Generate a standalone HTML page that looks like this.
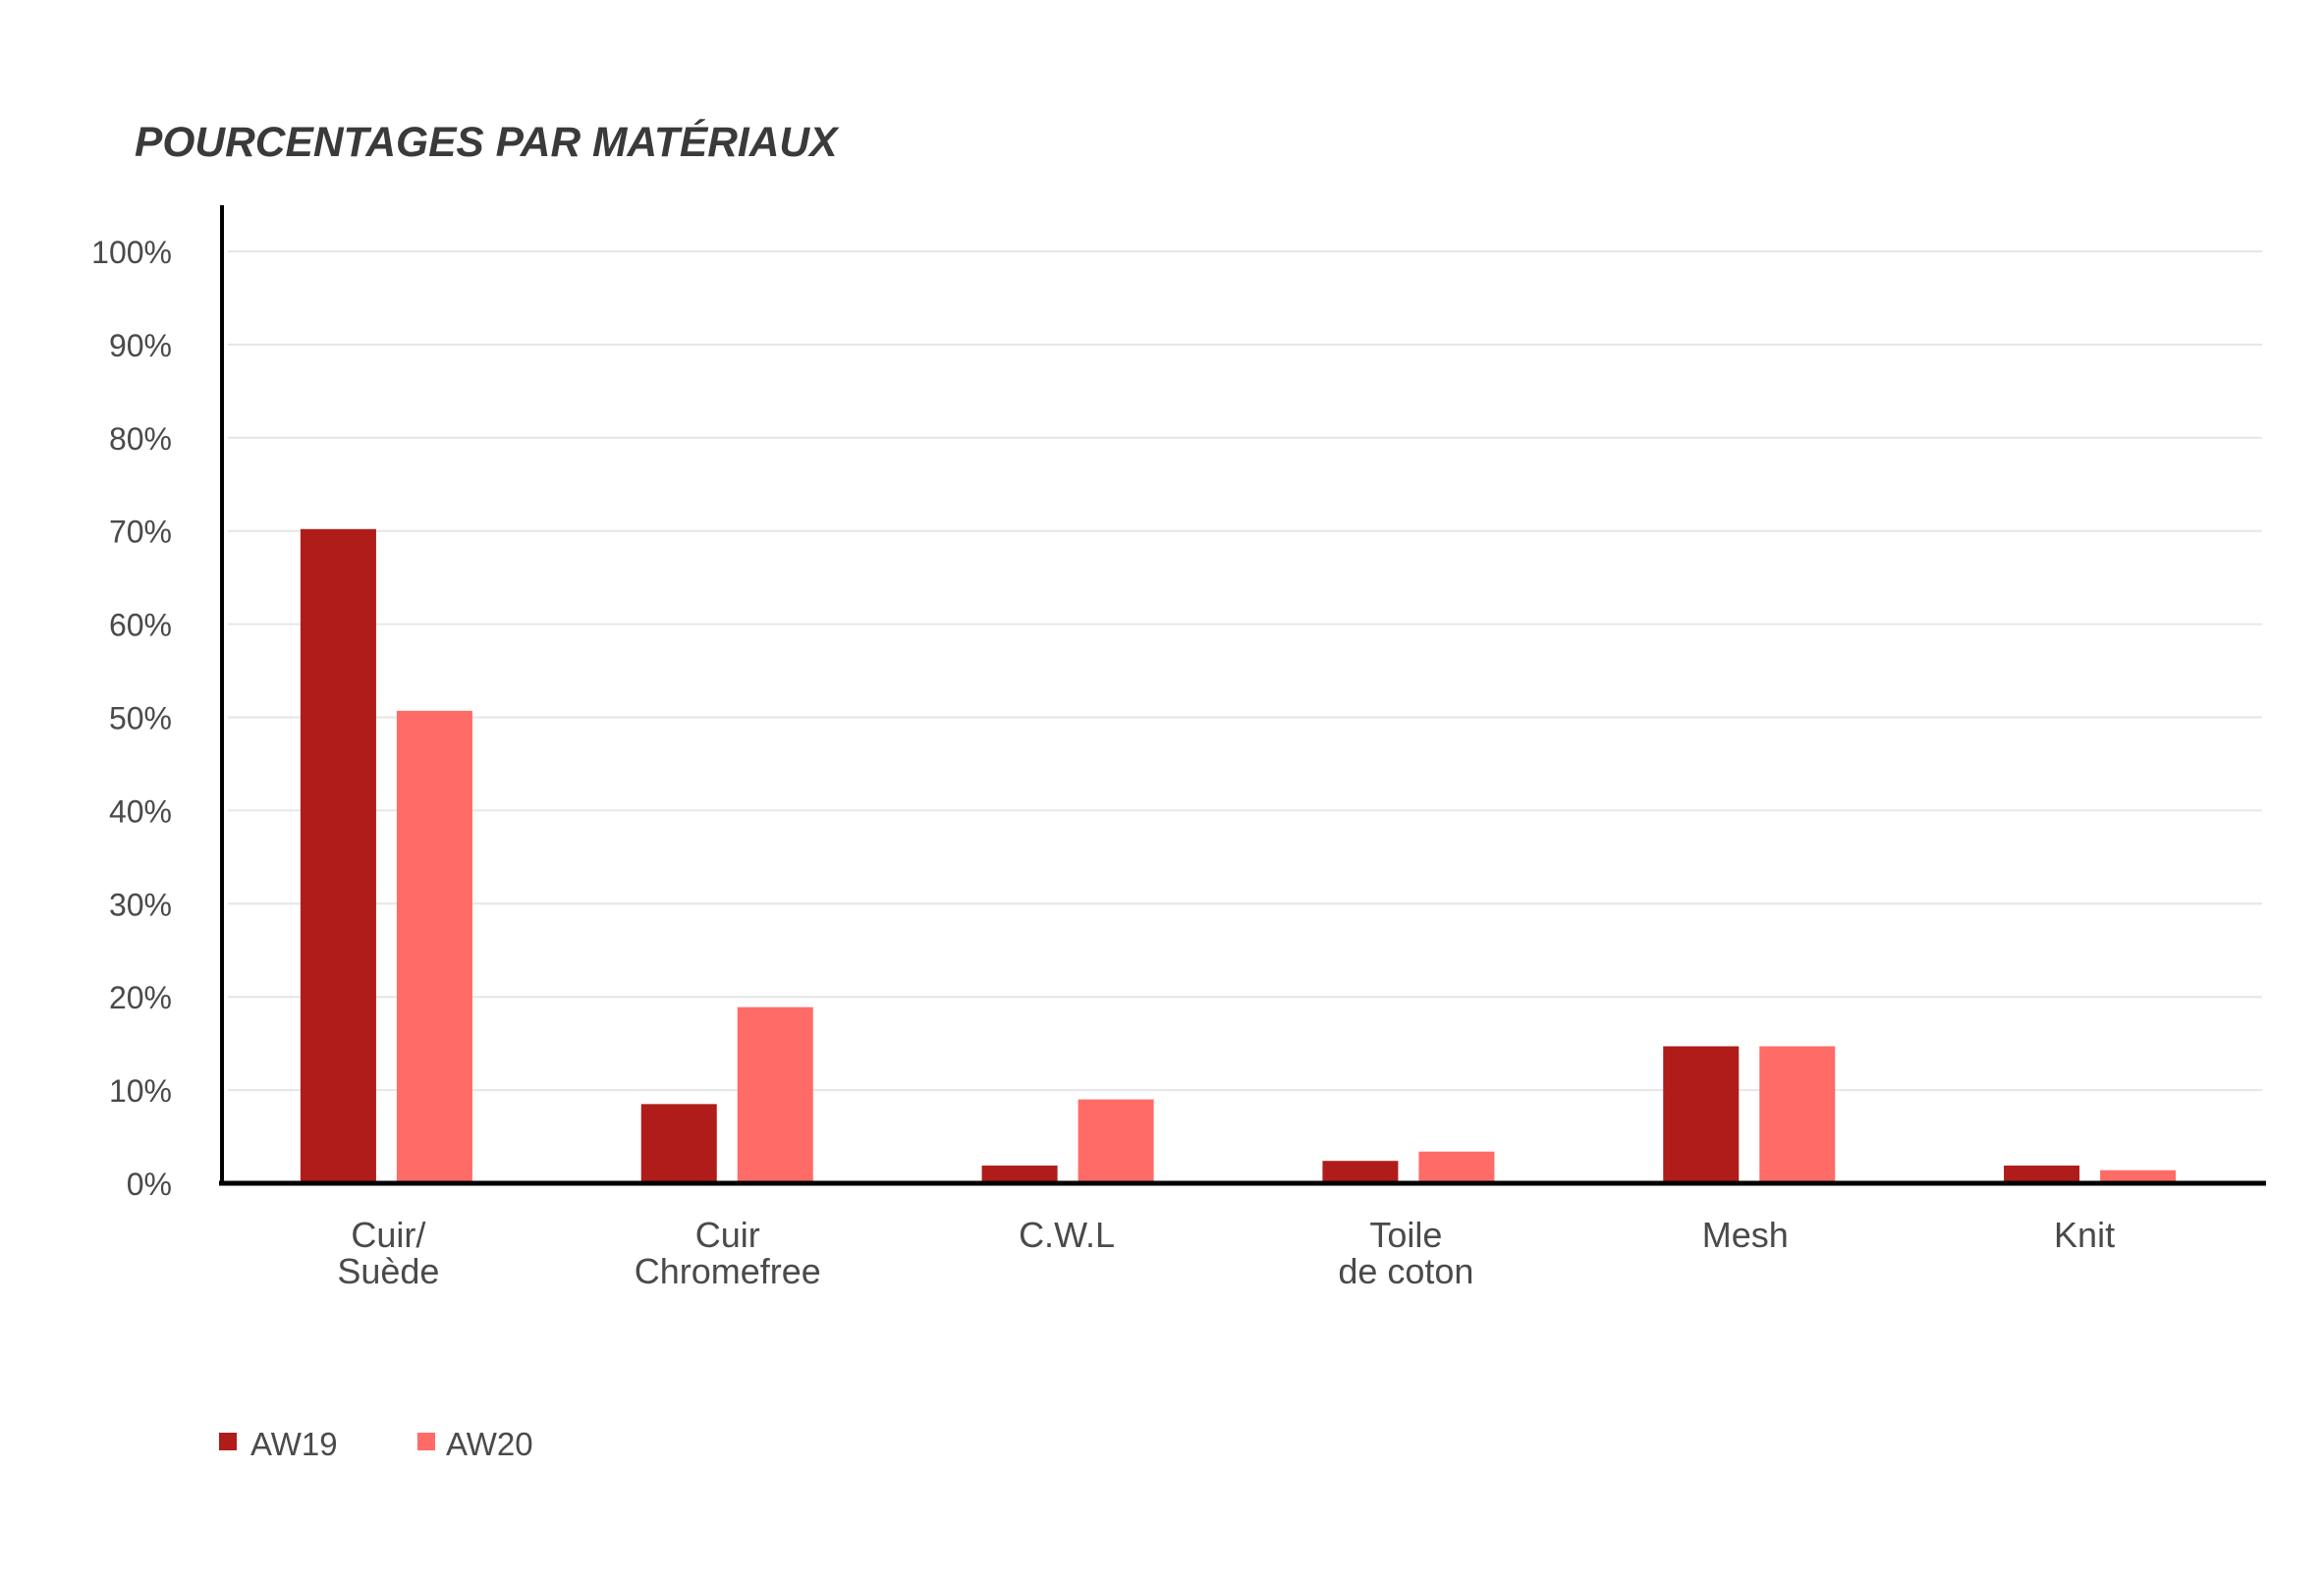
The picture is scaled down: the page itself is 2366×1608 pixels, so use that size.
<!DOCTYPE html>
<html><head><meta charset="utf-8"><style>
body{margin:0;background:#fff;}
svg text{font-family:"Liberation Sans",sans-serif;fill:#4a4a4a;}
</style></head><body>
<svg width="2366" height="1603" viewBox="0 0 2366 1603">
<text x="137" y="159" style="font-size:42.5px;font-weight:bold;font-style:italic;fill:#3a3a3a">POURCENTAGES PAR MATÉRIAUX</text>
<g id="grid"></g>
<g id="yticks"></g>
<g id="bars"></g>
<g id="xlabels"></g>
<line x1="226" y1="209" x2="226" y2="1207" stroke="#000" stroke-width="4"/>
<line x1="223" y1="1205" x2="2307" y2="1205" stroke="#000" stroke-width="5"/>
<g>
<rect x="223" y="1459" width="18" height="18" fill="#b01c1a"/>
<text x="255" y="1482" style="font-size:33px">AW19</text>
<rect x="425" y="1459" width="18" height="18" fill="#ff6b67"/>
<text x="454" y="1482" style="font-size:33px">AW20</text>
</g>
</svg>
<script>
const categories=[["Cuir/","Suède"],["Cuir","Chromefree"],["C.W.L"],["Toile","de coton"],["Mesh"],["Knit"]];
const aw19=[70.2,8.5,1.9,2.4,14.7,1.9];
const aw20=[50.7,18.9,9,3.4,14.7,1.4];
const yTicks=[0,10,20,30,40,50,60,70,80,90,100];
const NS="http://www.w3.org/2000/svg";
const x0=226,x1=2307,y0=1205,y100=256;
const band=(x1-x0)/categories.length;
function y(v){return y0-(y0-y100)*v/100;}
function bandCenter(i){return x0+band*(i+0.5)-6;}
function mk(t,a,p){const e=document.createElementNS(NS,t);for(const k in a)e.setAttribute(k,a[k]);p.appendChild(e);return e;}
const grid=document.getElementById('grid'),yt=document.getElementById('yticks'),bars=document.getElementById('bars'),xl=document.getElementById('xlabels');
yTicks.forEach(v=>{
 if(v>0){const l=mk('line',{x1:232,x2:2303,y1:y(v),y2:y(v),stroke:'#e6e6e6','stroke-width':2},grid);
 
 }
 const t=mk('text',{x:175,y:y(v)+12,'text-anchor':'end',style:'font-size:32px'},yt);
 t.textContent=v+'%';
 
 
});
const bw=77,gap=21;
categories.forEach((c,i)=>{
 const cx=bandCenter(i);
 const b1=mk('rect',{x:cx-gap/2-bw,y:y(aw19[i]),width:bw,height:y0-y(aw19[i]),fill:'#b01c1a'},bars);
 
 
 const b2=mk('rect',{x:cx+gap/2,y:y(aw20[i]),width:bw,height:y0-y(aw20[i]),fill:'#ff6b67'},bars);
 
 
 c.forEach((line,j)=>{
  const t=mk('text',{x:cx+2-i*1.5,y:1270+j*37,'text-anchor':'middle',style:'font-size:36px'},xl);
  t.textContent=line;
  
  
 });
});
</script>
</body></html>
